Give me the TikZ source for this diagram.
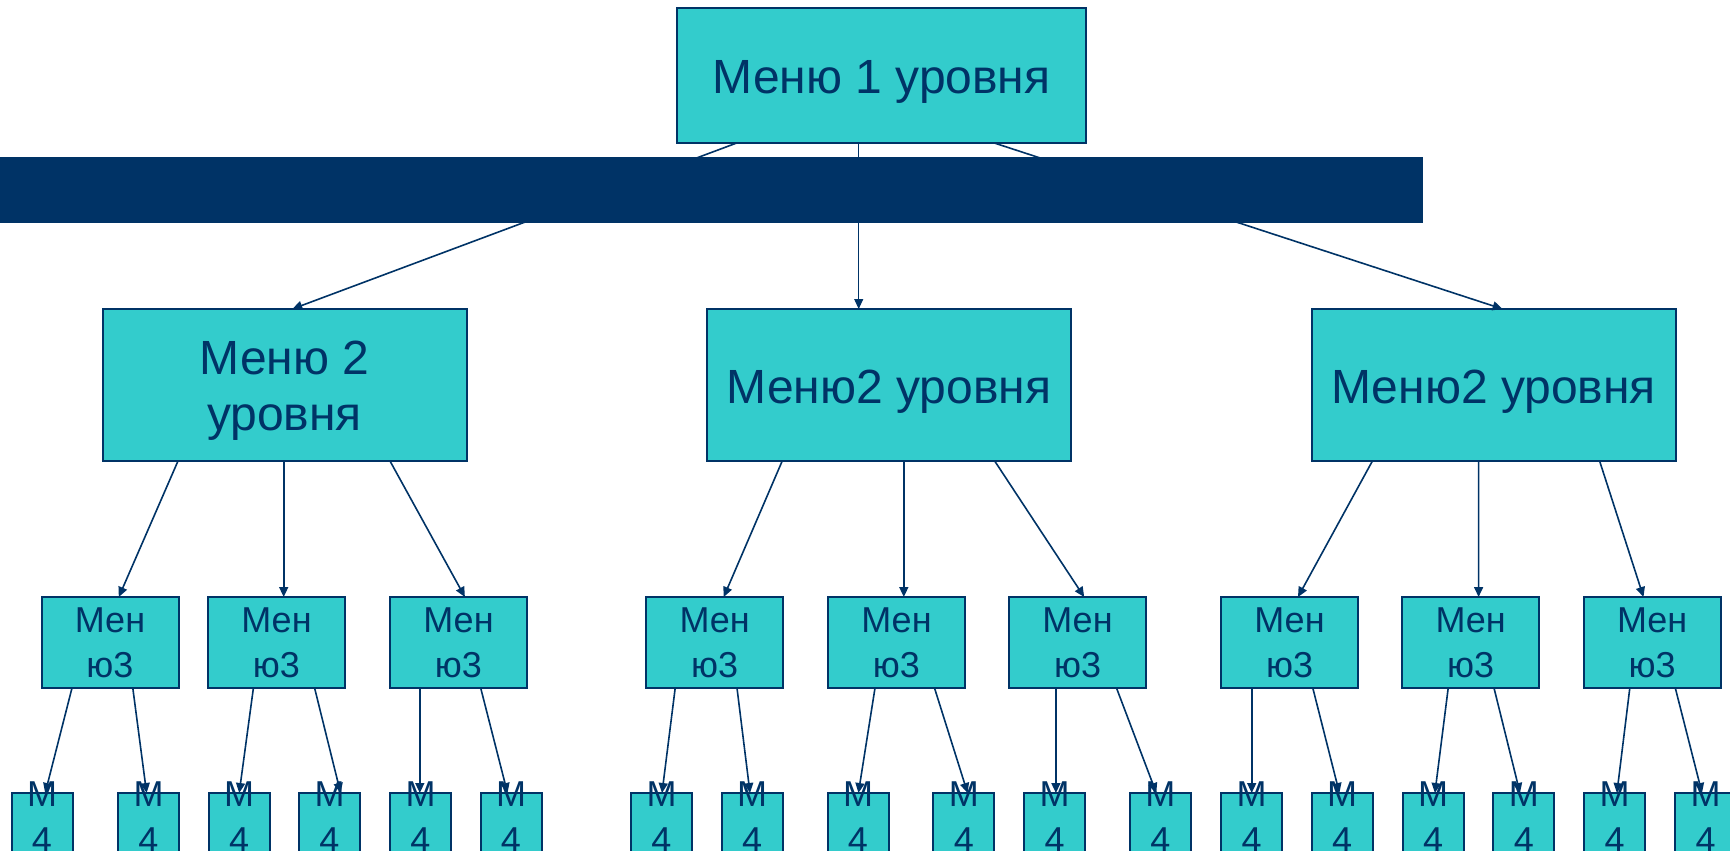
\documentclass[tikz,border=0pt]{standalone}
\usepackage{fontspec}
\setmainfont{Liberation Sans}
\usetikzlibrary{arrows.meta,calc}
\definecolor{boxfill}{HTML}{33CCCC}
\definecolor{darkc}{HTML}{003366}
\tikzset{
  box/.style={draw=darkc, line width=1pt, fill=boxfill, text=darkc, inner sep=0pt, outer sep=0pt, anchor=north west, align=center},
  lvlone/.style={box, minimum width=204.5pt, minimum height=67.5pt, text height=42.65pt, text depth=24.85pt, font=\fontsize{24pt}{27.65pt}\selectfont},
  lvltwoA/.style={box, minimum width=182pt, minimum height=76pt, text height=60.5pt, text depth=15.5pt, font=\fontsize{24pt}{27.65pt}\selectfont},
  lvltwoB/.style={box, minimum width=182pt, minimum height=76pt, text height=47pt, text depth=29pt, font=\fontsize{24pt}{27.65pt}\selectfont},
  lvlthree/.style={box, minimum width=68.5pt, minimum height=45.5pt, text height=40.15pt, text depth=5.35pt, font=\fontsize{18pt}{22.4pt}\selectfont},
  lvlfour/.style={box, minimum width=30.5pt, minimum height=23pt, text height=29.65pt, text depth=-6.65pt, font=\fontsize{18pt}{22.8pt}\selectfont},
  arr/.style={draw=darkc, line width=0.8pt, -{Triangle[length=5pt,width=4.5pt]}},
  thinarr/.style={arr, line width=0.55pt},
  bar/.style={fill=darkc}
}
\newcommand\myconn[5][]{\draw[arr,#1] ($(#2.south west)+(#3,0)$) -- ($(#4.north west)+(#5,0)$);}
\begin{document}
\begin{tikzpicture}[x=0.5pt,y=-0.5pt]
\useasboundingbox (0,0) rectangle (1730,851);
% level 1
\node[lvlone] (a) at (677,8) {Меню 1 уровня};
% level 2
\node[lvltwoA] (b1) at (102.5,309) {Меню 2\\уровня};
\node[lvltwoB] (b2) at (707,309) {Меню2 уровня};
\node[lvltwoB] (b3) at (1311.6,309) {Меню2 уровня};
% level 3
\foreach \n/\x in {1/41.5,2/208,3/390,4/646.2,5/828,6/1009,7/1221,8/1402.2,9/1583.7}
  \node[lvlthree] (c\n) at (\x,597) {Мен\\ю3};
% level 4
\foreach \n/\x in {1/11.5,2/118,3/208.6,4/299,5/390,6/480.5,7/631,8/721.6,9/827.5,10/933.4,11/1024,12/1129.8,13/1221,14/1311.7,15/1402.7,16/1493.3,17/1584,18/1675}
  \node[lvlfour] (d\n) at (\x,793) {М\\4};
% connectors level 1 -> 2
\myconn{a}{59.7}{b1}{189.8}
\myconn[thinarr]{a}{181.7}{b2}{151.7}
\myconn{a}{317.3}{b3}{191}
% level 2 -> 3
\myconn{b1}{75.5}{c1}{77.3}
\myconn{b1}{181.2}{c2}{75.7}
\myconn{b1}{287.5}{c3}{74.9}
\myconn{b2}{75.2}{c4}{77.5}
\myconn{b2}{196.8}{c5}{75.8}
\myconn{b2}{287.7}{c6}{75.2}
\myconn{b3}{60.8}{c7}{77}
\myconn{b3}{167}{c8}{76.4}
\myconn{b3}{288}{c9}{59.8}
% level 3 -> 4
\myconn{c1}{30.5}{d1}{33.7}
\myconn{c1}{91.3}{d2}{28.6}
\myconn{c2}{45.4}{d3}{30.6}
\myconn{c2}{106.6}{d4}{41.6}
\myconn{c3}{29.8}{d5}{29.8}
\myconn{c3}{90.7}{d6}{27}
\myconn{c4}{29}{d7}{31}
\myconn{c4}{90.8}{d8}{28.4}
\myconn{c5}{47}{d9}{30.9}
\myconn{c5}{106.5}{d10}{34.2}
\myconn{c6}{46.9}{d11}{31.9}
\myconn{c6}{107.5}{d12}{26.5}
\myconn{c7}{30.7}{d13}{30.7}
\myconn{c7}{91.8}{d14}{27.7}
\myconn{c8}{46}{d15}{32.2}
\myconn{c8}{91.8}{d16}{26.7}
\myconn{c9}{46.1}{d17}{32.9}
\myconn{c9}{91.6}{d18}{27}
% dark bar over the top connectors
\fill[bar] (-5,157) rectangle (1423,223);
\end{tikzpicture}
\end{document}
